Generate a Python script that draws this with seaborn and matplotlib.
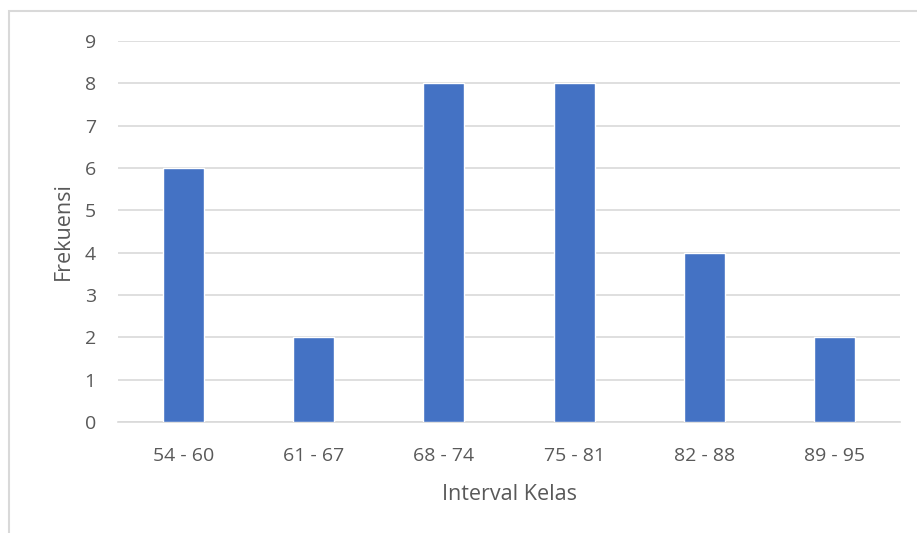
import matplotlib
matplotlib.use("Agg")
import matplotlib.pyplot as plt
from matplotlib.patches import Rectangle
import seaborn as sns
import pandas as pd

categories = ["54 - 60", "61 - 67", "68 - 74", "75 - 81", "82 - 88", "89 - 95"]
frequencies = [6, 2, 8, 8, 4, 2]
y_ticks = list(range(0, 10))

df = pd.DataFrame({"Interval Kelas": categories, "Frekuensi": frequencies})

sns.set_theme(style="white")
plt.rcParams["font.family"] = ["Open Sans", "DejaVu Sans"]

text_color = "#595959"
grid_color = "#D9D9D9"

fig = plt.figure(figsize=(9.17, 5.33), dpi=100)
ax = fig.add_axes([0.1287, 0.2083, 0.8528, 0.7148])

sns.barplot(data=df, x="Interval Kelas", y="Frekuensi", color="#4472C4",
            width=0.315, saturation=1, ax=ax, zorder=3)

ax.set_ylim(0, 9)
ax.set_yticks(y_ticks)
ax.set_xlim(-0.5, len(categories) - 0.5)
ax.yaxis.grid(True, color=grid_color, linewidth=1.2, zorder=0)
ax.set_axisbelow(True)
for side in ["top", "right", "left"]:
    ax.spines[side].set_visible(False)
ax.spines["bottom"].set_color(grid_color)
ax.spines["bottom"].set_linewidth(1.2)
ax.tick_params(axis="both", length=0, labelsize=14, colors=text_color)
ax.tick_params(axis="x", pad=18)
ax.tick_params(axis="y", pad=16)

ax.set_xlabel("Interval Kelas", fontsize=15.5, color=text_color, labelpad=14)
ax.set_ylabel("Frekuensi", fontsize=15.5, color=text_color, labelpad=8)

# light chart-area frame
fig.patches.append(Rectangle((9 / 917, -0.1), 1.2, 1 - 11 / 533 + 0.1,
                             transform=fig.transFigure, fill=False,
                             edgecolor=grid_color, linewidth=1.5))

fig.savefig("out.png", dpi=100)
